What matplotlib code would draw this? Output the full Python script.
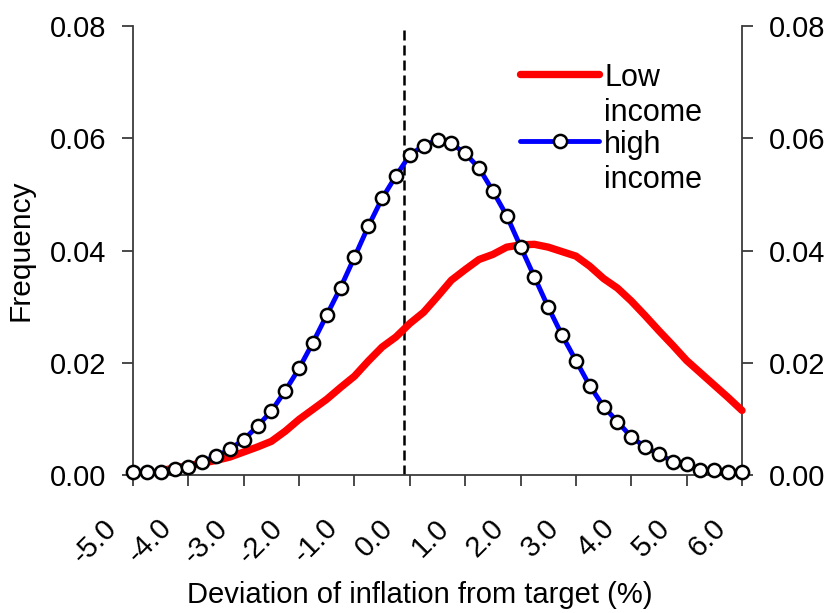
import numpy as np
import matplotlib
matplotlib.use("Agg")
import matplotlib.pyplot as plt
import matplotlib.transforms as mtransforms
from matplotlib.legend_handler import HandlerTuple

plt.rcParams['font.family'] = ['Liberation Sans', 'DejaVu Sans']

# ---- data ----
high_income = [0.0006, 0.0006, 0.0006, 0.0010, 0.0015, 0.0024, 0.0033, 0.0046, 0.0063, 0.0087,
               0.0114, 0.0150, 0.0190, 0.0236, 0.0285, 0.0334, 0.0388, 0.0443, 0.0493, 0.0533,
               0.0570, 0.0587, 0.0597, 0.0591, 0.0573, 0.0547, 0.0506, 0.0462, 0.0407, 0.0353,
               0.0299, 0.0249, 0.0204, 0.0159, 0.0122, 0.0095, 0.0068, 0.0050, 0.0037, 0.0024,
               0.0019, 0.0009, 0.0009, 0.0006, 0.0006]
high_x = np.linspace(-5.0, 6.0, len(high_income))

low_income = [0.0008, 0.0012, 0.0017, 0.0021, 0.0026, 0.0032, 0.0041, 0.0050, 0.0060, 0.0078,
              0.0099, 0.0117, 0.0135, 0.0156, 0.0176, 0.0203, 0.0228, 0.0246, 0.0270, 0.0290,
              0.0318, 0.0347, 0.0366, 0.0384, 0.0393, 0.0406, 0.0410, 0.0411, 0.0406, 0.0398,
              0.0390, 0.0372, 0.0350, 0.0333, 0.0310, 0.0284, 0.0257, 0.0231, 0.0204, 0.0182,
              0.0160, 0.0138, 0.0115]
low_x = np.linspace(-4.5, 6.0, len(low_income))

target_line = -0.1
x_ticks = [-5, -4, -3, -2, -1, 0, 1, 2, 3, 4, 5, 6]
x_tick_labels = ['-5.0', '-4.0', '-3.0', '-2.0', '-1.0', '0.0', '1.0', '2.0', '3.0', '4.0', '5.0', '6.0']
y_ticks = [0.00, 0.02, 0.04, 0.06, 0.08]
y_tick_labels = ['0.00', '0.02', '0.04', '0.06', '0.08']
series_names = ['Low\nincome', 'high\nincome']

# ---- figure ----
fig = plt.figure(figsize=(8.31, 6.13), dpi=100)
ax = fig.add_axes([133/831, 138/613, 609/831, 449/613])

spine_col = '#3c3c3c'
fs_tick = 21

blue_line, = ax.plot(high_x, high_income, color='#0000ff', lw=3.5, zorder=3,
                     solid_capstyle='round', clip_on=False)
red_line, = ax.plot(low_x, low_income, color='#ff0000', lw=5.3, zorder=4,
                    solid_capstyle='round', solid_joinstyle='round', clip_on=False)
blue_marks, = ax.plot(high_x, high_income, ls='none', marker='o', ms=9.5,
                      mfc='white', mec='black', mew=1.8, zorder=5, clip_on=False)

ax.axvline(target_line, color='black', lw=1.8, ls=(0, (4, 2)), zorder=2)

ax.set_xlim(-5, 6)
ax.set_ylim(0, 0.08)
ax.set_xticks(x_ticks)
ax.set_xticklabels(x_tick_labels)
ax.set_yticks(y_ticks)
ax.set_yticklabels(y_tick_labels)

ax.spines['top'].set_visible(False)
for s in ['left', 'right', 'bottom']:
    ax.spines[s].set_color(spine_col)
    ax.spines[s].set_linewidth(1.3)

ax.tick_params(axis='y', which='major', direction='out', length=8, width=1.3, color=spine_col,
               left=True, right=True, labelleft=True, labelright=True,
               labelsize=fs_tick, pad=11)
ax.tick_params(axis='x', which='major', direction='out', length=8, width=1.3, color=spine_col,
               labelsize=fs_tick, pad=31)

offset = mtransforms.ScaledTranslation(-0.15, 0, fig.dpi_scale_trans)
for lbl in ax.get_xticklabels():
    lbl.set_rotation(45)
    lbl.set_rotation_mode('anchor')
    lbl.set_ha('right')
    lbl.set_va('baseline')
    lbl.set_transform(lbl.get_transform() + offset)

ax.set_xlabel('Deviation of inflation from target (%)', fontsize=21)
ax.xaxis.set_label_coords(0.471, -0.236)
ax.set_ylabel('Frequency', fontsize=21.5)
ax.yaxis.set_label_coords(-0.161, 0.5)

leg = ax.legend([red_line, (blue_line, blue_marks)], series_names,
                handler_map={tuple: HandlerTuple(ndivide=1)},
                loc='upper left', bbox_to_anchor=(0.6355, 0.918),
                frameon=False, fontsize=22, handlelength=2.6, handletextpad=0.15,
                borderpad=0, borderaxespad=0, labelspacing=0.08)
for t in leg.get_texts():
    t.set_linespacing(1.22)
for col in leg._legend_handle_box.get_children():
    for hp in col.get_children():
        hp.align = 'top'

fig.savefig('out.png', dpi=100)
